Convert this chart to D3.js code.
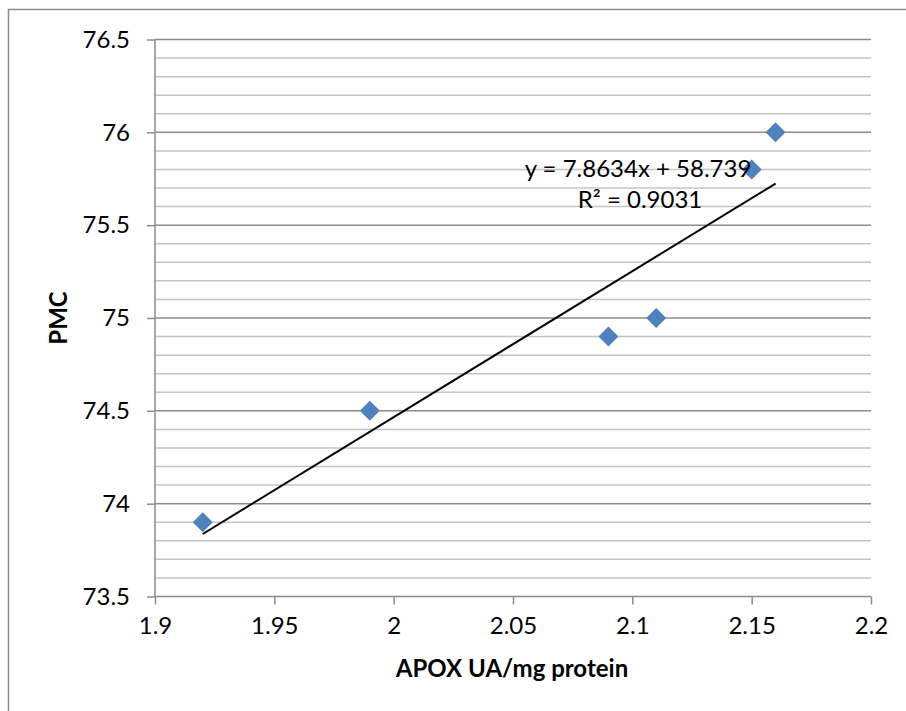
<!DOCTYPE html>
<html>
<head>
<meta charset="utf-8">
<script src="https://cdn.jsdelivr.net/npm/d3@7"></script>
<style>
  body { margin: 0; background: #fff; }
  svg { display: block; font-family: Lato, "Open Sans", sans-serif; }
</style>
</head>
<body>
<svg id="chart" width="906" height="711"></svg>
<script>
const apox = [1.92, 1.99, 2.09, 2.11, 2.15, 2.16];
const pmc = [73.9, 74.5, 74.9, 75.0, 75.8, 76.0];
const slope = 7.8634;
const intercept = 58.739;
const equationLabel = "y = 7.8634x + 58.739";
const r2Label = "R\u00b2 = 0.9031";
const xTicks = [1.9, 1.95, 2, 2.05, 2.1, 2.15, 2.2];
const yTicks = [73.5, 74, 74.5, 75, 75.5, 76, 76.5];
const xTitle = "APOX UA/mg protein";
const yTitle = "PMC";

const plotLeft = 155, plotRight = 871, plotTop = 39.5, plotBottom = 596.5;

const svg = d3.select('#chart');

svg.append('rect').attr('x', 8.5).attr('y', 9.5).attr('width', 910).attr('height', 720)
  .attr('fill', '#fff').attr('stroke', '#8c8c8c').attr('stroke-width', 1.5);

const xScale = d3.scaleLinear().domain([1.9, 2.2]).range([plotLeft, plotRight]);
const yScale = d3.scaleLinear().domain([73.5, 76.5]).range([plotBottom, plotTop]);

// minor gridlines every 0.1
const minor = d3.range(73.6, 76.5, 0.1).map(v => +v.toFixed(1)).filter(v => !yTicks.includes(v));
svg.append('g').selectAll('line').data(minor).enter().append('line')
  .attr('x1', plotLeft).attr('x2', plotRight)
  .attr('y1', d => yScale(d)).attr('y2', d => yScale(d))
  .attr('stroke', '#c4c4c4').attr('stroke-width', 1.5);

svg.append('g').selectAll('line').data(yTicks.slice(1)).enter().append('line')
  .attr('x1', plotLeft).attr('x2', plotRight)
  .attr('y1', d => yScale(d)).attr('y2', d => yScale(d))
  .attr('stroke', '#8c8c8c').attr('stroke-width', 1.5);

const xAxis = d3.axisBottom(xScale).tickValues(xTicks).tickSize(8).tickPadding(12).tickFormat(d3.format('~g'));
const xAxisGroup = svg.append('g').attr('transform', `translate(0, ${plotBottom})`).call(xAxis);

const yAxis = d3.axisLeft(yScale).tickValues(yTicks).tickSize(8).tickPadding(17).tickFormat(d3.format('~g'));
const yAxisGroup = svg.append('g').attr('transform', `translate(${plotLeft}, 0)`).call(yAxis);

[xAxisGroup, yAxisGroup].forEach(g => {
  g.select('.domain').attr('stroke', '#8c8c8c').attr('stroke-width', 1.5);
  g.selectAll('.tick line').attr('stroke', '#8c8c8c').attr('stroke-width', 1.5);
  g.selectAll('.tick text').attr('font-size', 24).attr('fill', '#000').attr('font-family', 'Lato, sans-serif');
});
yAxisGroup.select('.domain').attr('d', `M0,${plotTop}V${plotBottom}`);
xAxisGroup.select('.domain').attr('d', `M${plotLeft},0H${plotRight}`);

// trendline
const x0 = d3.min(apox), x1 = d3.max(apox);
svg.append('line')
  .attr('x1', xScale(x0)).attr('y1', yScale(slope * x0 + intercept))
  .attr('x2', xScale(x1)).attr('y2', yScale(slope * x1 + intercept))
  .attr('stroke', '#000').attr('stroke-width', 2);

const diamond = d3.symbol().type(d3.symbolSquare).size(200);
svg.append('g').selectAll('path').data(apox).enter().append('path')
  .attr('d', diamond)
  .attr('transform', (d, i) => `translate(${xScale(d)}, ${yScale(pmc[i])}) rotate(45)`)
  .attr('fill', '#4f81bd');

svg.append('text').attr('x', 638).attr('y', 177).attr('text-anchor', 'middle')
  .attr('font-size', 24).text(equationLabel);
svg.append('text').attr('x', 640).attr('y', 208).attr('text-anchor', 'middle')
  .attr('font-size', 24).text(r2Label);

svg.append('text').attr('x', 512).attr('y', 677).attr('text-anchor', 'middle')
  .attr('font-size', 24).attr('font-weight', 'bold').text(xTitle);
svg.append('text').attr('transform', 'translate(67, 318) rotate(-90)').attr('text-anchor', 'middle')
  .attr('font-size', 24).attr('font-weight', 'bold').text(yTitle);
</script>
</body>
</html>
